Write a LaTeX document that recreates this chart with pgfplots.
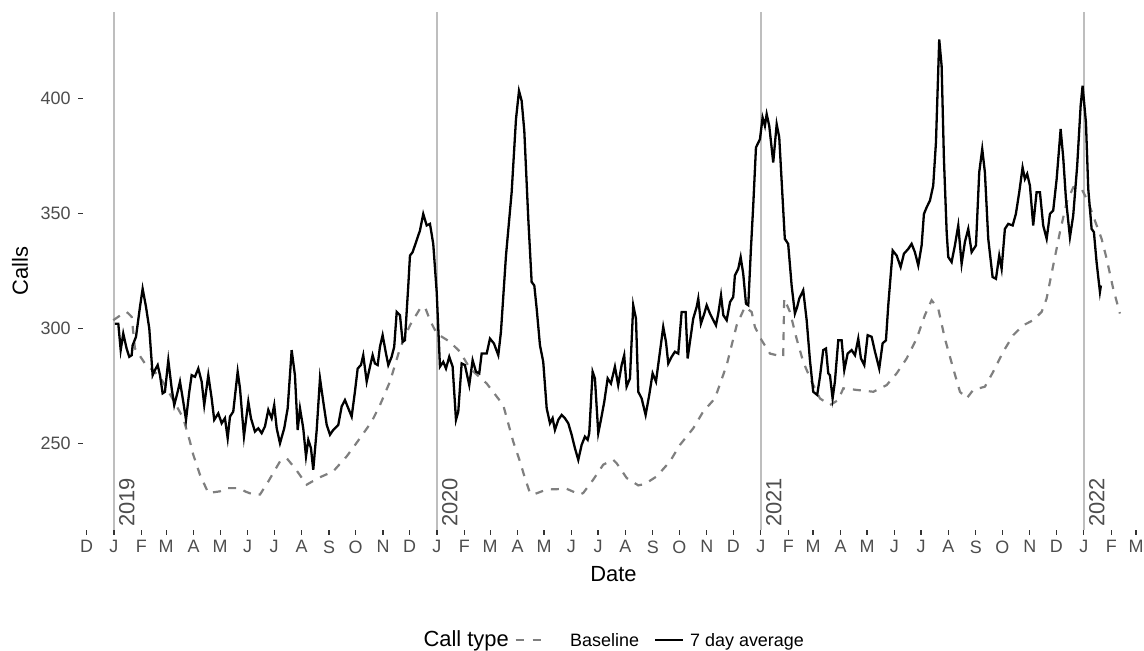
\documentclass[border=0pt]{standalone}
\usepackage{fontspec}
\setmainfont{Liberation Sans}
\usepackage{pgfplots}
\pgfplotsset{compat=1.18}

\definecolor{ggtext}{HTML}{4D4D4D}
\definecolor{ggtick}{HTML}{333333}
\definecolor{ggyear}{HTML}{BEBEBE}
\definecolor{ggbase}{HTML}{7F7F7F}

% x = days since 2019-01-01
\begin{document}
\begin{tikzpicture}
\begin{axis}[
  at={(83bp,121bp)}, anchor=south west,
  scale only axis, width=1061bp, height=518bp,
  xmin=-35, xmax=1164, ymin=212.3, ymax=437.5,
  axis line style={draw=none},
  xtick={-31,0,31,59,90,120,151,181,212,243,273,304,334,365,396,425,456,486,517,547,578,609,639,670,700,731,762,790,821,851,882,912,943,974,1004,1035,1065,1096,1127,1155},
  xticklabels={D,J,F,M,A,M,J,J,A,S,O,N,D,J,F,M,A,M,J,J,A,S,O,N,D,J,F,M,A,M,J,J,A,S,O,N,D,J,F,M},
  ytick={250,300,350,400},
  xtick pos=left, ytick pos=left,
  tick align=outside, major tick length=5bp,
  every tick/.style={color=ggtick, line width=1.1bp},
  tick label style={font=\fontsize{18}{18}\selectfont, text=ggtext},
  xticklabel style={yshift=-2bp},
  yticklabel style={xshift=-4bp},
  /pgf/number format/assume math mode=true,
  xlabel={Date}, ylabel={Calls},
  xlabel style={at={(axis description cs:0.5,-0.0849)}, anchor=center, inner sep=0pt, font=\fontsize{22}{22}\selectfont},
  ylabel style={at={(axis description cs:-0.0594,0.5)}, anchor=center, inner sep=0pt, font=\fontsize{22}{22}\selectfont},
]
% year marker lines
\foreach \d/\yr in {0/2019,365/2020,731/2021,1096/2022}{
  \edef\tmp{\noexpand\draw[ggyear, line width=1.4bp] (axis cs:\d,212.3) -- (axis cs:\d,437.5);
  \noexpand\node[rotate=90, anchor=north west, inner sep=0pt, text=ggtext, font=\noexpand\fontsize{22}{22}\noexpand\selectfont] at (axis cs:\d+5.6,213.6) {\yr};}
  \tmp
}

% Baseline
\addplot[ggbase, line width=2.2bp, dash pattern=on 8bp off 8bp] coordinates {
(-0.8,303.5) (6.8,305.5) (14.4,307.1) (20.0,305.0) (23.7,291.2) (35.0,284.7) (52.0,278.9) (67.0,268.8)
(78.3,260.9) (85.9,250.7) (89.6,245.0) (97.2,236.3) (106.6,228.4) (119.8,229.1) (127.4,230.5) (142.4,230.5)
(148.0,229.1) (157.4,227.7) (165.0,227.7) (174.4,233.4) (187.6,242.1) (195.2,243.5) (204.5,239.2) (217.8,232.0)
(230.9,234.9) (247.8,237.8) (263.0,244.3) (278.0,252.2) (291.2,259.4) (300.6,266.6) (311.9,276.8) (323.2,291.2)
(334.5,301.3) (345.8,308.5) (351.4,309.3) (357.1,303.5) (364.7,297.7) (379.7,294.1) (391.0,289.8) (402.3,282.5)
(421.2,276.0) (439.9,266.6) (451.2,250.7) (458.8,242.1) (464.4,234.9) (470.1,228.4) (473.8,227.7) (489.0,229.9)
(511.6,230.2) (526.6,227.7) (530.3,228.4) (541.6,234.2) (552.9,240.7) (564.2,242.8) (568.1,241.3) (579.4,234.9)
(592.5,231.7) (600.0,232.3) (613.3,235.6) (628.3,242.1) (639.6,249.3) (654.6,256.5) (665.9,263.8) (679.1,269.5)
(692.4,284.0) (703.7,301.3) (713.0,309.3) (720.6,307.1) (724.3,300.6) (731.9,294.8) (741.3,289.0) (756.3,287.6)
(757.4,312.9) (763.9,307.1) (771.4,295.5) (778.9,285.4) (788.4,276.8) (797.8,269.5) (809.1,266.6) (818.5,268.8)
(824.2,273.9) (839.3,273.2) (858.1,272.4) (873.2,275.3) (884.5,280.4) (895.8,286.9) (907.1,295.5) (916.4,305.7)
(924.0,312.2) (931.5,308.5) (939.0,295.5) (948.4,282.5) (956.0,272.4) (963.6,269.5) (971.0,273.2) (984.2,274.6)
(993.6,281.1) (1004.9,289.8) (1016.2,297.0) (1027.5,301.3) (1038.8,303.5) (1048.3,307.1) (1053.9,312.9) (1061.4,327.3)
(1069.0,341.8) (1076.6,354.8) (1084.1,361.3) (1093.5,360.6) (1101.0,354.8) (1110.5,344.7) (1116.1,338.9) (1121.8,330.2)
(1129.2,317.2) (1136.8,306.4)
};

% 7 day average
\addplot[black, line width=2.3bp] coordinates {
(1.1,302.0) (4.9,302.0) (7.6,290.5) (10.5,297.7) (14.4,291.0) (17.3,287.6) (20.0,288.3) (21.1,292.6)
(24.9,296.3) (29.4,309.3) (32.4,317.2) (36.2,309.3) (39.9,299.9) (43.7,279.6) (46.3,281.8) (49.4,284.0)
(52.0,279.6) (55.0,271.7) (57.6,272.4) (61.4,286.1) (65.2,273.9) (68.1,266.6) (72.0,272.4) (74.6,276.8)
(78.3,268.1) (81.4,260.2) (85.1,272.4) (87.8,279.6) (91.5,278.9) (95.3,282.5) (99.1,276.8) (102.0,266.6)
(106.6,279.6) (110.4,269.5) (113.3,260.2) (117.9,263.0) (121.7,258.7) (125.4,260.9) (128.5,252.2) (131.1,261.6)
(134.8,263.8) (139.8,281.1) (142.4,273.9) (146.9,253.0) (151.8,268.1) (154.8,260.9) (159.3,255.1) (163.1,256.5)
(166.9,254.4) (170.6,257.3) (174.4,264.5) (178.2,260.9) (181.1,266.6) (183.9,256.5) (187.6,250.0) (192.4,256.5)
(196.3,265.2) (200.8,290.5) (204.5,279.6) (207.6,255.8) (210.2,265.2) (213.9,256.5) (217.0,244.3) (219.6,251.5)
(222.6,247.9) (225.2,238.5) (229.1,255.8) (232.8,278.2) (236.5,268.1) (240.4,258.0) (244.1,253.7) (247.8,255.8)
(253.5,258.0) (257.3,266.0) (261.0,268.8) (264.8,265.2) (268.6,261.6) (272.3,272.4) (275.4,282.5) (279.1,284.0)
(281.7,288.3) (285.6,276.8) (289.3,283.3) (292.3,288.3) (294.9,284.7) (298.0,284.0) (300.6,292.0) (303.6,297.0)
(307.4,289.0) (310.0,284.0) (313.8,287.6) (316.7,292.0) (319.5,307.1) (323.2,305.7) (326.2,294.1) (328.8,294.8)
(332.6,318.6) (334.5,331.6) (337.5,333.1) (345.8,342.5) (349.5,349.7) (353.4,344.7) (357.1,345.4) (360.8,336.7)
(364.7,315.8) (368.4,283.3) (372.1,285.4) (375.2,282.5) (378.9,287.6) (382.7,283.3) (386.5,260.2) (389.1,263.8)
(392.9,284.7) (396.6,284.0) (401.5,275.3) (405.3,286.1) (409.1,281.1) (412.8,280.4) (415.5,289.0) (421.2,289.0)
(424.9,295.5) (429.4,293.4) (434.3,288.3) (437.3,298.4) (443.0,331.6) (449.4,359.1) (454.3,390.9) (457.7,403.2)
(460.7,398.9) (463.7,385.8) (468.2,347.6) (472.0,320.1) (475.0,318.6) (477.7,308.5) (481.4,292.6) (485.1,285.4)
(489.0,265.2) (492.7,258.7) (495.7,260.9) (498.3,255.8) (502.1,260.2) (505.9,262.3) (509.6,260.9) (513.4,258.7)
(517.2,253.7) (520.9,247.9) (524.7,242.8) (528.5,249.3) (532.2,252.9) (535.3,251.5) (537.1,254.4) (540.9,281.1)
(543.5,278.2) (547.3,254.4) (550.3,260.2) (554.1,268.1) (557.9,278.2) (561.6,276.0) (566.1,283.3) (569.8,275.3)
(573.7,284.0) (576.6,288.3) (579.3,274.6) (583.1,278.2) (586.8,310.0) (589.9,304.2) (592.5,272.4) (596.3,269.5)
(600.8,262.3) (604.9,271.0) (608.7,280.4) (612.5,276.8) (617.0,289.8) (620.7,300.6) (623.8,294.1) (626.4,284.7)
(630.2,287.6) (633.9,289.8) (637.7,289.0) (641.5,307.1) (646.0,307.1) (648.3,286.9) (650.9,294.1) (654.6,304.2)
(658.5,309.3) (660.3,312.9) (663.3,302.0) (667.1,306.4) (669.8,310.0) (673.5,306.4) (677.3,303.5) (680.3,301.3)
(682.9,306.4) (686.0,314.3) (688.6,305.7) (692.4,303.5) (696.2,311.4) (699.8,313.6) (701.7,323.0) (705.5,325.9)
(708.2,330.9) (711.1,323.7) (714.2,310.7) (716.8,310.0) (719.8,334.5) (722.4,353.3) (725.5,378.6) (730.0,382.2)
(733.0,391.6) (735.6,388.0) (737.6,393.1) (740.5,388.0) (745.0,372.1) (748.9,388.7) (751.8,383.0) (758.1,338.9)
(761.9,336.7) (765.8,318.6) (769.5,306.4) (772.1,309.3) (774.4,312.9) (778.9,316.5) (782.8,303.5) (786.5,286.1)
(790.2,272.4) (794.7,271.0) (797.8,278.9) (801.5,290.5) (804.6,291.2) (807.2,280.4) (809.1,279.6) (812.1,269.5)
(814.7,276.8) (818.5,294.8) (822.3,294.8) (825.3,281.8) (829.1,289.0) (833.6,290.5) (837.4,288.3) (841.1,295.5)
(844.1,286.9) (847.9,284.0) (851.7,297.0) (856.2,296.3) (860.0,289.8) (864.8,282.5) (868.6,293.4) (872.4,294.8)
(875.0,310.0) (880.0,333.8) (884.5,331.6) (889.0,326.6) (892.7,332.4) (897.6,334.5) (901.4,336.7) (905.1,333.1)
(908.9,327.3) (912.7,336.0) (915.3,349.7) (918.4,352.6) (922.1,355.5) (925.8,362.0) (928.9,380.8) (932.6,425.6)
(935.3,414.0) (937.9,373.6) (941.0,341.8) (942.8,331.0) (946.6,328.8) (950.3,336.0) (954.1,344.7) (957.9,328.0)
(961.6,337.5) (965.4,343.2) (969.2,333.1) (974.1,336.0) (977.8,367.8) (981.2,377.9) (984.2,367.8) (988.0,338.9)
(992.9,322.3) (996.7,321.5) (1000.4,331.6) (1003.1,325.9) (1006.8,343.2) (1010.6,345.4) (1015.6,344.7) (1019.2,349.7)
(1023.0,359.1) (1026.8,369.9) (1029.4,364.9) (1032.0,367.1) (1035.1,362.0) (1038.8,344.7) (1042.6,359.1) (1046.4,359.1)
(1050.1,344.7) (1054.0,338.9) (1057.7,349.7) (1061.4,351.2) (1065.3,364.9) (1069.8,386.6) (1072.7,374.3) (1075.8,356.2)
(1080.3,339.6) (1084.0,349.0) (1088.5,370.7) (1092.4,396.7) (1094.6,405.4) (1098.4,389.5) (1101.0,360.6) (1104.8,343.2)
(1107.4,341.8) (1110.4,328.8) (1114.2,315.8) (1115.3,318.6)
};
\end{axis}

% legend
\node[anchor=base east, inner sep=0pt, font=\fontsize{22}{22}\selectfont] at (509bp,4.5bp) {Call type};
\draw[ggbase, line width=2.2bp, dash pattern=on 8bp off 9bp] (515.7bp,11bp) -- (541bp,11bp);
\node[anchor=base west, inner sep=0pt, font=\fontsize{18}{18}\selectfont] at (570bp,4.5bp) {Baseline};
\draw[black, line width=2.3bp] (655bp,11bp) -- (683bp,11bp);
\node[anchor=base west, inner sep=0pt, font=\fontsize{18}{18}\selectfont] at (690bp,4.5bp) {7 day average};

\pgfresetboundingbox
\path[use as bounding box] (0bp,0bp) rectangle (1144bp,651bp);
\end{tikzpicture}
\end{document}
